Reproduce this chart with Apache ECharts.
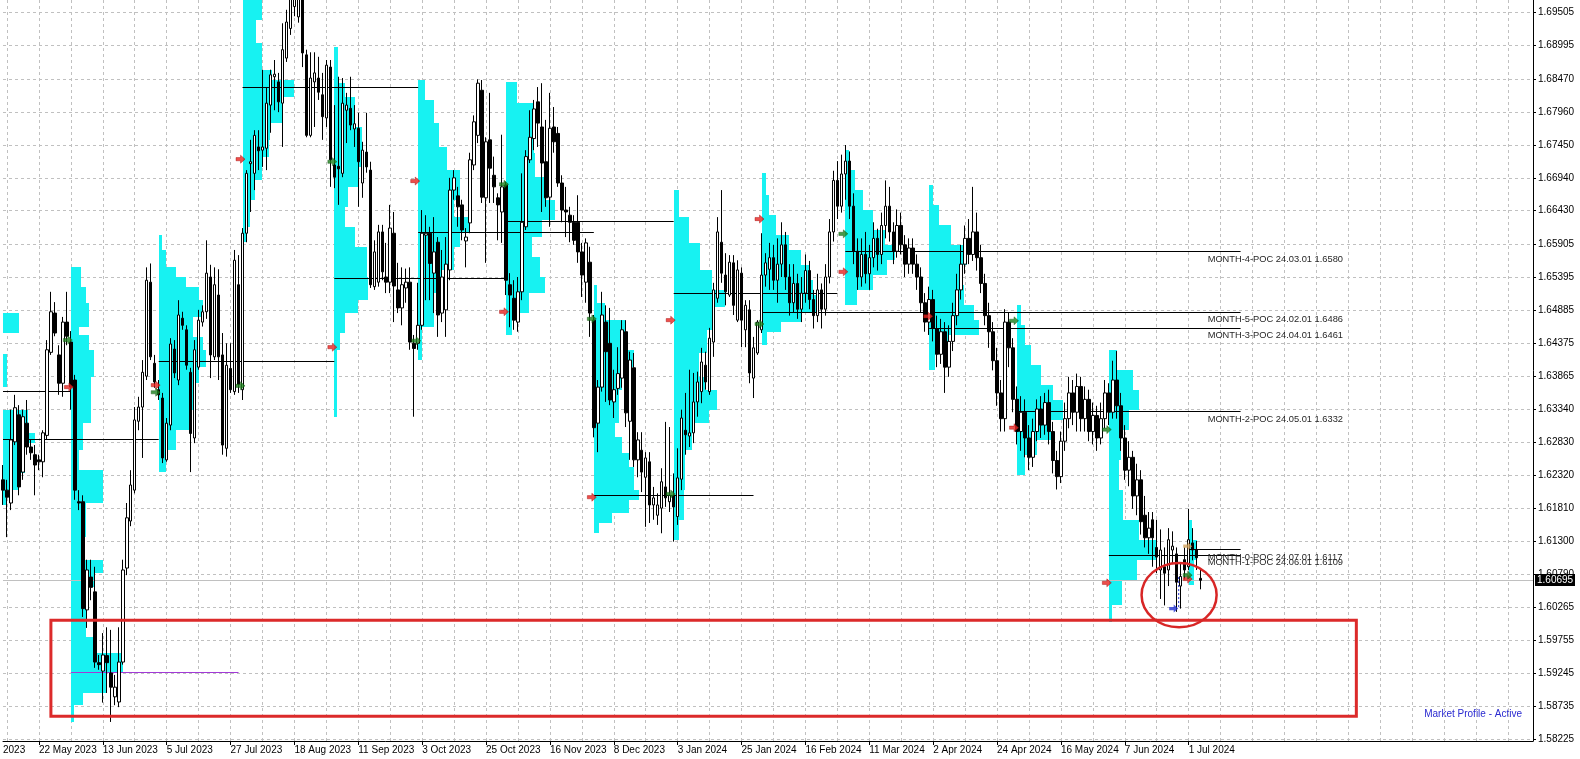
<!DOCTYPE html>
<html>
<head>
<meta charset="utf-8">
<title>Market Profile - daily</title>
<script src="https://cdn.jsdelivr.net/npm/echarts@6/dist/echarts.min.js"></script>
<style>
  html, body { margin: 0; padding: 0; background: #fff; }
  #chart { width: 1580px; height: 759px; }
</style>
</head>
<body>
<div id="chart"></div>
<script>
// daily bars, bar 0 = 28 Apr 2023; first visible bar is 7
const firstBar = 7;

const opens = [
  1.6225,1.6209,1.6189,1.6284,1.6326,1.6237,1.6313,1.6276,1.6264,1.6256,
  1.6253,1.6294,1.6423,1.6484,1.6419,1.6375,1.6470,1.6439,1.6380,1.6191,
  1.6191,1.6023,1.6074,1.6051,1.5941,1.5928,1.5952,1.5925,1.5888,1.5880,
  1.5942,1.6088,1.6161,1.6209,1.6316,1.6338,1.6386,1.6532,1.6406,1.6365,
  1.6352,1.6256,1.6310,1.6428,1.6380,1.6476,1.6458,1.6392,1.6290,1.6400,
  1.6470,1.6486,1.6540,1.6416,1.6512,1.6419,1.6274,1.6398,1.6362,1.6528,
  1.6365,1.6608,1.6716,1.6701,1.6742,1.6737,1.6740,1.6807,1.6851,1.6843,
  1.6810,1.6880,1.6926,1.6960,1.6944,1.6975,1.6885,1.6760,1.6843,1.6849,
  1.6823,1.6787,1.6866,1.6714,1.6712,1.6701,1.6799,1.6802,1.6770,1.6771,
  1.6686,1.6734,1.6706,1.6525,1.6532,1.6610,1.6540,1.6532,1.6608,1.6520,
  1.6492,1.6523,1.6532,1.6437,1.6437,1.6465,1.6605,1.6608,1.6546,1.6594,
  1.6484,1.6489,1.6551,1.6675,1.6666,1.6652,1.6596,1.6624,1.6714,1.6760,
  1.6830,1.6663,1.6753,1.6698,1.6663,1.6641,1.6683,1.6528,1.6507,1.6470,
  1.6517,1.6618,1.6722,1.6755,1.6812,1.6773,1.6719,1.6664,1.6773,1.6763,
  1.6686,1.6644,1.6636,1.6625,1.6625,1.6579,1.6532,1.6563,1.6473,1.6313,
  1.6369,1.6470,1.6437,1.6346,1.6367,1.6383,1.6455,1.6316,1.6399,1.6256,
  1.6271,1.6229,1.6253,1.6186,1.6170,1.6181,1.6214,1.6191,1.6201,1.6168,
  1.6226,1.6302,1.6293,1.6298,1.6346,1.6362,1.6403,1.6362,1.6439,1.6507,
  1.6594,1.6543,1.6512,1.6562,1.6473,1.6546,1.6458,1.6489,1.6383,1.6422,
  1.6458,1.6543,1.6552,1.6570,1.6535,1.6560,1.6590,1.6540,1.6500,1.6530,
  1.6490,1.6515,1.6550,1.6505,1.6480,1.6520,1.6490,1.6540,1.6610,1.6690,
  1.6650,1.6700,1.6720,1.6650,1.6580,1.6540,1.6575,1.6545,1.6570,1.6600,
  1.6575,1.6620,1.6650,1.6610,1.6580,1.6620,1.6590,1.6560,1.6585,1.6560,
  1.6540,1.6500,1.6470,1.6505,1.6460,1.6420,1.6455,1.6400,1.6440,1.6480,
  1.6520,1.6560,1.6600,1.6575,1.6610,1.6570,1.6530,1.6480,1.6455,1.6410,
  1.6360,1.6320,1.6470,1.6430,1.6350,1.6300,1.6330,1.6290,1.6260,1.6300,
  1.6335,1.6310,1.6345,1.6300,1.6255,1.6230,1.6285,1.6320,1.6360,1.6330,
  1.6370,1.6320,1.6350,1.6300,1.6325,1.6290,1.6320,1.6360,1.6330,1.6380,
  1.6340,1.6290,1.6240,1.6260,1.6200,1.6225,1.6170,1.6135,1.6163,1.6120,
  1.6085,1.6090,1.6085,1.6116,1.6110,1.6060,1.6101,1.6090,1.6127,1.6116,1.6072
];
const closes = [
  1.6209,1.6198,1.6287,1.6337,1.6214,1.6323,1.6276,1.6267,1.6248,1.6253,
  1.6298,1.6427,1.6486,1.6453,1.6375,1.6470,1.6448,1.6369,1.6209,1.6189,
  1.6025,1.6085,1.6058,1.5942,1.5938,1.5953,1.5941,1.5903,1.5903,1.5942,
  1.6085,1.6166,1.6217,1.6318,1.6338,1.6392,1.6535,1.6416,1.6377,1.6357,
  1.6259,1.6313,1.6436,1.6391,1.6481,1.6465,1.6403,1.6297,1.6427,1.6473,
  1.6486,1.6546,1.6419,1.6528,1.6416,1.6279,1.6403,1.6365,1.6566,1.6373,
  1.6608,1.6701,1.6719,1.6760,1.6736,1.6742,1.6810,1.6854,1.6855,1.6812,
  1.6893,1.6936,1.6975,1.6985,1.6990,1.6888,1.6760,1.6849,1.6857,1.6827,
  1.6789,1.6869,1.6722,1.6695,1.6708,1.6810,1.6807,1.6776,1.6778,1.6719,
  1.6737,1.6711,1.6528,1.6579,1.6610,1.6548,1.6532,1.6616,1.6526,1.6492,
  1.6528,1.6532,1.6439,1.6429,1.6465,1.6608,1.6608,1.6561,1.6579,1.6481,
  1.6540,1.6560,1.6675,1.6694,1.6649,1.6613,1.6602,1.6722,1.6781,1.6841,
  1.6664,1.6750,1.6709,1.6680,1.6652,1.6680,1.6535,1.6512,1.6473,1.6517,
  1.6625,1.6727,1.6757,1.6801,1.6779,1.6717,1.6663,1.6771,1.6750,1.6686,
  1.6644,1.6641,1.6625,1.6597,1.6579,1.6543,1.6593,1.6484,1.6306,1.6369,
  1.6481,1.6424,1.6349,1.6365,1.6390,1.6458,1.6329,1.6411,1.6256,1.6287,
  1.6237,1.6259,1.6186,1.6197,1.6186,1.6222,1.6197,1.6201,1.6183,1.6228,
  1.6321,1.6295,1.6298,1.6346,1.6377,1.6408,1.6377,1.6445,1.6520,1.6610,
  1.6546,1.6517,1.6563,1.6496,1.6551,1.6473,1.6496,1.6391,1.6430,1.6470,
  1.6543,1.6562,1.6570,1.6535,1.6560,1.6590,1.6540,1.6500,1.6530,1.6490,
  1.6515,1.6550,1.6505,1.6480,1.6520,1.6490,1.6540,1.6610,1.6690,1.6650,
  1.6700,1.6720,1.6650,1.6580,1.6540,1.6575,1.6545,1.6570,1.6600,1.6575,
  1.6620,1.6650,1.6610,1.6580,1.6620,1.6590,1.6560,1.6585,1.6560,1.6540,
  1.6500,1.6470,1.6505,1.6460,1.6420,1.6455,1.6400,1.6440,1.6480,1.6520,
  1.6560,1.6600,1.6575,1.6610,1.6570,1.6530,1.6480,1.6455,1.6410,1.6360,
  1.6320,1.6470,1.6430,1.6350,1.6300,1.6330,1.6290,1.6260,1.6300,1.6335,
  1.6310,1.6345,1.6300,1.6255,1.6230,1.6285,1.6320,1.6360,1.6330,1.6370,
  1.6320,1.6350,1.6300,1.6325,1.6290,1.6320,1.6360,1.6330,1.6380,1.6340,
  1.6290,1.6240,1.6260,1.6200,1.6225,1.6160,1.6135,1.6150,1.6135,1.6105,
  1.6116,1.6080,1.6132,1.6122,1.6066,1.6075,1.6085,1.6132,1.6116,1.6104,1.6069
];
const highs = [
  1.6248,1.6225,1.6334,1.6357,1.6341,1.6334,1.6349,1.6287,1.6279,1.6264,
  1.6302,1.6442,1.6517,1.6501,1.6434,1.6478,1.6517,1.6456,1.6388,1.6209,
  1.6201,1.6101,1.6101,1.6090,1.5953,1.5987,1.5996,1.5992,1.5922,1.5996,
  1.6101,1.6189,1.6240,1.6338,1.6354,1.6411,1.6555,1.6561,1.6419,1.6380,
  1.6360,1.6321,1.6445,1.6442,1.6504,1.6486,1.6465,1.6399,1.6442,1.6489,
  1.6496,1.6597,1.6559,1.6555,1.6552,1.6453,1.6437,1.6437,1.6582,1.6574,
  1.6616,1.6706,1.6753,1.6768,1.6768,1.6862,1.6835,1.6862,1.6877,1.6857,
  1.6934,1.6955,1.7000,1.7010,1.7015,1.6995,1.6893,1.6889,1.6889,1.6882,
  1.6857,1.6877,1.6877,1.6807,1.6851,1.6849,1.6826,1.6851,1.6807,1.6795,
  1.6750,1.6795,1.6719,1.6597,1.6621,1.6621,1.6593,1.6652,1.6641,1.6562,
  1.6555,1.6553,1.6555,1.6450,1.6531,1.6644,1.6636,1.6618,1.6633,1.6602,
  1.6582,1.6602,1.6694,1.6706,1.6680,1.6660,1.6616,1.6733,1.6791,1.6847,
  1.6846,1.6757,1.6826,1.6727,1.6670,1.6761,1.6688,1.6546,1.6535,1.6540,
  1.6701,1.6737,1.6799,1.6815,1.6835,1.6841,1.6784,1.6826,1.6804,1.6773,
  1.6698,1.6680,1.6649,1.6636,1.6667,1.6593,1.6600,1.6587,1.6481,1.6380,
  1.6517,1.6496,1.6492,1.6396,1.6431,1.6473,1.6473,1.6424,1.6422,1.6299,
  1.6299,1.6268,1.6268,1.6214,1.6204,1.6243,1.6315,1.6307,1.6235,1.6274,
  1.6334,1.6360,1.6396,1.6391,1.6393,1.6430,1.6424,1.6461,1.6531,1.6633,
  1.6675,1.6577,1.6574,1.6574,1.6566,1.6555,1.6504,1.6504,1.6447,1.6473,
  1.6608,1.6577,1.6593,1.6590,1.6600,1.6625,1.6610,1.6560,1.6560,1.6545,
  1.6540,1.6575,1.6565,1.6520,1.6545,1.6530,1.6560,1.6630,1.6705,1.6720,
  1.6730,1.6745,1.6735,1.6670,1.6600,1.6600,1.6610,1.6590,1.6625,1.6615,
  1.6640,1.6690,1.6680,1.6625,1.6645,1.6640,1.6605,1.6600,1.6600,1.6575,
  1.6555,1.6515,1.6525,1.6520,1.6480,1.6475,1.6470,1.6465,1.6500,1.6545,
  1.6590,1.6620,1.6630,1.6680,1.6640,1.6590,1.6545,1.6500,1.6470,1.6430,
  1.6380,1.6490,1.6485,1.6445,1.6370,1.6355,1.6350,1.6310,1.6320,1.6350,
  1.6355,1.6360,1.6365,1.6315,1.6270,1.6300,1.6345,1.6385,1.6380,1.6390,
  1.6385,1.6370,1.6365,1.6345,1.6340,1.6345,1.6380,1.6375,1.6410,1.6425,
  1.6360,1.6310,1.6285,1.6270,1.6250,1.6240,1.6200,1.6175,1.6175,1.6163,
  1.6148,1.6120,1.6150,1.6145,1.6120,1.6095,1.6120,1.6180,1.6150,1.6130,1.6085
];
const lows = [
  1.6186,1.6136,1.6178,1.6279,1.6201,1.6225,1.6264,1.6256,1.6201,1.6240,
  1.6229,1.6287,1.6419,1.6448,1.6357,1.6354,1.6434,1.6334,1.6194,1.6178,
  1.6012,1.5995,1.6038,1.5933,1.5930,1.5879,1.5894,1.5849,1.5875,1.5872,
  1.5938,1.6077,1.6153,1.6204,1.6302,1.6259,1.6380,1.6411,1.6368,1.6349,
  1.6251,1.6253,1.6302,1.6383,1.6372,1.6458,1.6396,1.6237,1.6282,1.6396,
  1.6463,1.6475,1.6383,1.6411,1.6380,1.6264,1.6261,1.6360,1.6357,1.6360,
  1.6349,1.6594,1.6641,1.6675,1.6706,1.6711,1.6706,1.6764,1.6799,1.6796,
  1.6742,1.6874,1.6916,1.6945,1.6935,1.6866,1.6757,1.6757,1.6773,1.6815,
  1.6753,1.6773,1.6680,1.6678,1.6652,1.6695,1.6748,1.6768,1.6742,1.6649,
  1.6663,1.6702,1.6523,1.6520,1.6525,1.6535,1.6515,1.6515,1.6470,1.6484,
  1.6465,1.6500,1.6427,1.6323,1.6427,1.6458,1.6504,1.6504,1.6484,1.6447,
  1.6470,1.6447,1.6535,1.6660,1.6618,1.6597,1.6555,1.6608,1.6706,1.6748,
  1.6655,1.6562,1.6655,1.6655,1.6597,1.6593,1.6512,1.6462,1.6458,1.6455,
  1.6504,1.6613,1.6717,1.6737,1.6742,1.6641,1.6649,1.6618,1.6733,1.6680,
  1.6625,1.6602,1.6594,1.6590,1.6562,1.6509,1.6500,1.6447,1.6291,1.6268,
  1.6362,1.6346,1.6341,1.6321,1.6357,1.6368,1.6307,1.6256,1.6245,1.6229,
  1.6206,1.6152,1.6158,1.6163,1.6155,1.6142,1.6183,1.6175,1.6129,1.6155,
  1.6209,1.6264,1.6276,1.6282,1.6323,1.6344,1.6365,1.6357,1.6416,1.6500,
  1.6531,1.6496,1.6509,1.6481,1.6470,1.6431,1.6431,1.6375,1.6352,1.6419,
  1.6453,1.6525,1.6520,1.6520,1.6500,1.6540,1.6520,1.6480,1.6485,1.6475,
  1.6470,1.6500,1.6490,1.6460,1.6470,1.6460,1.6480,1.6530,1.6595,1.6630,
  1.6640,1.6660,1.6630,1.6560,1.6520,1.6525,1.6530,1.6520,1.6555,1.6550,
  1.6560,1.6600,1.6595,1.6560,1.6570,1.6575,1.6540,1.6545,1.6545,1.6520,
  1.6485,1.6455,1.6450,1.6440,1.6400,1.6405,1.6360,1.6385,1.6425,1.6465,
  1.6505,1.6545,1.6560,1.6565,1.6550,1.6515,1.6465,1.6430,1.6395,1.6340,
  1.6300,1.6300,1.6400,1.6330,1.6280,1.6270,1.6260,1.6240,1.6245,1.6285,
  1.6290,1.6295,1.6280,1.6235,1.6210,1.6220,1.6270,1.6305,1.6310,1.6300,
  1.6300,1.6300,1.6285,1.6280,1.6270,1.6280,1.6305,1.6310,1.6320,1.6320,
  1.6270,1.6225,1.6215,1.6180,1.6170,1.6140,1.6120,1.6110,1.6090,1.6080,
  1.6040,1.6030,1.6060,1.6094,1.6020,1.6025,1.6070,1.6085,1.6100,1.6085,1.6055
];
const lastPrice = 1.60695;

// axis labels
const priceLabels = ['1.58225','1.58735','1.59245','1.59755','1.60265','1.60790','1.61300','1.61810',
  '1.62320','1.62830','1.63340','1.63865','1.64375','1.64885','1.65395','1.65905','1.66430',
  '1.66940','1.67450','1.67960','1.68470','1.68995','1.69505'];
const dateBars = [16, 32, 48, 64, 80, 96, 112, 128, 144, 160, 176, 192, 208, 224, 240, 256, 272, 288, 304];
const dateLabels = ['22 May 2023','13 Jun 2023','5 Jul 2023','27 Jul 2023','18 Aug 2023','11 Sep 2023',
  '3 Oct 2023','25 Oct 2023','16 Nov 2023','8 Dec 2023','3 Jan 2024','25 Jan 2024','16 Feb 2024',
  '11 Mar 2024','2 Apr 2024','24 Apr 2024','16 May 2024','7 Jun 2024','1 Jul 2024'];

// monthly market profiles: first bar of month, rows [priceHigh, priceLow, TPO width in bars]
const profileStarts = [-19, 1, 24, 46, 67, 90, 111, 133, 155, 175, 197, 218, 239, 261, 284, 304];
const profileRows = [
  [[1.6484,1.6453,30],[1.6453,1.6432,26],[1.6432,1.6420,25],[1.6420,1.6369,27],[1.6369,1.6355,25]],
  [[1.6333,1.6298,12.25],[1.6298,1.6282,14],[1.6282,1.6236,11.5],[1.6236,1.6209,9.75],[1.6209,1.6186,7]],
  [[1.6556,1.6525,2.5],[1.6525,1.6500,3.75],[1.6500,1.6462,4.5],[1.6462,1.6450,2],[1.6450,1.6427,4.5],
   [1.6427,1.6385,5.75],[1.6385,1.6313,5],[1.6313,1.6271,3],[1.6271,1.6240,2],[1.6240,1.6189,8],
   [1.6189,1.6136,3.75],[1.6136,1.6100,3],[1.6100,1.6081,8],[1.6081,1.6058,6],[1.6058,1.5981,3.75],
   [1.5981,1.5956,5.5],[1.5956,1.5925,13],[1.5925,1.5894,8.75],[1.5894,1.5875,3],[1.5875,1.5849,0.75]],
  [[1.6605,1.6582,0.75],[1.6582,1.6556,1.75],[1.6556,1.6540,4.25],[1.6540,1.6525,6.75],[1.6525,1.6504,10],
   [1.6504,1.6478,11],[1.6478,1.6447,8.5],[1.6447,1.6427,11],[1.6427,1.6400,11.75],[1.6400,1.6375,10],
   [1.6375,1.6333,8.5],[1.6333,1.6302,7.5],[1.6302,1.6271,4.25],[1.6271,1.6237,1.75]],
  [[1.6990,1.6939,5],[1.6939,1.6903,3.25],[1.6903,1.6862,5],[1.6862,1.6846,7.5],[1.6846,1.6820,13],
   [1.6820,1.6779,10],[1.6779,1.6753,7],[1.6753,1.6726,6.75],[1.6726,1.6691,5],[1.6691,1.6660,3],
   [1.6660,1.6618,1.75],[1.6618,1.6594,0.75]],
  [[1.6897,1.6841,1],[1.6841,1.6820,2.75],[1.6820,1.6773,5.25],[1.6773,1.6711,7],[1.6711,1.6680,6],
   [1.6680,1.6649,3.5],[1.6649,1.6618,2.75],[1.6618,1.6587,5.25],[1.6587,1.6540,8.25],[1.6540,1.6504,8.5],
   [1.6504,1.6484,6],[1.6484,1.6453,2.75],[1.6453,1.6427,1.5],[1.6427,1.6323,0.75]],
  [[1.6846,1.6815,1.75],[1.6815,1.6779,4],[1.6779,1.6742,5.25],[1.6742,1.6706,7.25],[1.6706,1.6660,10.5],
   [1.6660,1.6633,9],[1.6633,1.6608,12.75],[1.6608,1.6587,10.5],[1.6587,1.6551,9],[1.6551,1.6515,6],
   [1.6515,1.6462,4],[1.6462,1.6411,1]],
  [[1.6843,1.6810,2.75],[1.6810,1.6773,7],[1.6773,1.6733,7],[1.6733,1.6695,7.25],[1.6695,1.6660,9.75],
   [1.6660,1.6629,12.25],[1.6629,1.6602,9],[1.6602,1.6571,6.5],[1.6571,1.6540,8.5],[1.6540,1.6515,9.75],
   [1.6515,1.6484,5.75],[1.6484,1.6450,1.5]],
  [[1.6528,1.6500,0.75],[1.6500,1.6473,2.75],[1.6473,1.6427,7.75],[1.6427,1.6400,10],[1.6400,1.6365,7],
   [1.6365,1.6313,6.25],[1.6313,1.6292,5.25],[1.6292,1.6267,7],[1.6267,1.6245,8.75],[1.6245,1.6209,10],
   [1.6209,1.6194,11.25],[1.6194,1.6174,8.75],[1.6174,1.6158,4.5],[1.6158,1.6143,1.25]],
  [[1.6675,1.6633,1.25],[1.6633,1.6593,3.75],[1.6593,1.6551,6.5],[1.6551,1.6520,9.5],[1.6520,1.6493,12.75],
   [1.6493,1.6458,9.5],[1.6458,1.6422,8.25],[1.6422,1.6385,6.25],[1.6385,1.6365,7.75],[1.6365,1.6334,10.75],
   [1.6334,1.6313,8.75],[1.6313,1.6271,4.5],[1.6271,1.6209,2.75],[1.6209,1.6163,2.5],[1.6163,1.6132,1.25]],
  [[1.6702,1.6667,1],[1.6667,1.6636,2],[1.6636,1.6605,3.75],[1.6605,1.6582,7],[1.6582,1.6559,10],
   [1.6559,1.6535,12],[1.6535,1.6512,13],[1.6512,1.6486,14],[1.6486,1.6470,10],[1.6470,1.6455,5],
   [1.6455,1.6434,1.25]],
  [[1.6737,1.6706,1],[1.6706,1.6675,2.5],[1.6675,1.6644,4.5],[1.6644,1.6613,7],[1.6613,1.6590,10],
   [1.6590,1.6566,12.5],[1.6566,1.6543,10.5],[1.6543,1.6520,7],[1.6520,1.6496,3]],
  [[1.6683,1.6652,1],[1.6652,1.6621,2.5],[1.6621,1.6590,5.5],[1.6590,1.6559,9.5],[1.6559,1.6528,7.5],
   [1.6528,1.6497,8.75],[1.6497,1.6473,11.25],[1.6473,1.6450,12.5],[1.6450,1.6427,5],[1.6427,1.6396,1.5]],
  [[1.6497,1.6465,1],[1.6465,1.6434,2],[1.6434,1.6403,3.5],[1.6403,1.6372,6],[1.6372,1.6349,9],
   [1.6349,1.6318,11.5],[1.6318,1.6287,8.5],[1.6287,1.6264,5],[1.6264,1.6233,2]],
  [[1.6427,1.6396,2],[1.6396,1.6365,6],[1.6365,1.6334,7.5],[1.6334,1.6302,5],[1.6302,1.6256,3],
   [1.6256,1.6209,2.5],[1.6209,1.6163,3.5],[1.6163,1.6132,7.5],[1.6132,1.6101,11.75],[1.6101,1.6070,7],
   [1.6070,1.6031,3.25],[1.6031,1.6004,0.75]],
  [[1.6163,1.6132,0.75],[1.6132,1.6101,2],[1.6101,1.6062,1.25]]
];

// point of control lines per month
const pocEnd = [24, 46, 66, 90, 111, 133, 155, 175, 195, 216, 317, 317, 317, 317, 317, 317];
const pocPrice = [1.6363, 1.6288, 1.5926, 1.6410, 1.6835, 1.6539, 1.6610, 1.6627, 1.6202, 1.6515,
  1.6486, 1.6580, 1.6461, 1.6332, 1.6109, 1.6117];
const pocTags = {10: 'MONTH-5-POC 24.02.01', 11: 'MONTH-4-POC 24.03.01', 12: 'MONTH-3-POC 24.04.01',
  13: 'MONTH-2-POC 24.05.01', 14: 'MONTH-1-POC 24.06.01', 15: 'MONTH-0-POC 24.07.01'};
const pocLabelBar = 308.75;
const purplePoc = 2;

// month open / poc markers
const redMarks = [[23.5,1.6369],[45.25,1.6372],[66.5,1.6723],[89.5,1.6431],[110.25,1.6689],[132.5,1.6486],
  [154.5,1.6198],[174.25,1.6473],[196.5,1.6630],[217.5,1.6548],[238.75,1.6479],[260.25,1.6306],
  [283.5,1.6065],[303.75,1.6071]];
const greenMarks = [[23.25,1.6442],[45.25,1.6361],[66.5,1.6371],[89.5,1.6719],[110.5,1.6441],[132.5,1.6684],
  [154.5,1.6475],[174.25,1.6203],[196.5,1.6467],[217.5,1.6607],[260.25,1.6472],[283.5,1.6303],
  [303.75,1.6077]];
const tanMarks = [[303.75, 1.6122]];
const blueMarks = [[300.25, 1.6025]];
const blueTrail = [[301.5, 1.6074], [301.5, 1.6026]];

// hand-drawn annotations
const boxBars = [19, 346];
const boxPrices = [1.6007, 1.5858];
const ringCenter = [301.6, 1.6046];
const ringRadius = [9.4, 0.0050];

const FONT = 'Liberation Sans, Arial, sans-serif';
const xMin = 7, xMax = 390.25;
const yMin = 1.58194, yMax = 1.69702;

const gridBars = [];
for (let b = 8; b < xMax; b += 8) gridBars.push(b);

const candleData = opens.map((o, k) => [firstBar + k, o, closes[k], lows[k], highs[k]]);
const profileData = [];
profileStarts.forEach((s, k) => profileRows[k].forEach(r => profileData.push([s, r[0], r[1], r[2]])));
const pocData = profileStarts.map((s, k) => [s, pocEnd[k], pocPrice[k], k]);
const pocLabelData = Object.keys(pocTags).map(k => [pocLabelBar, pocPrice[k], +k]);

const arrowPath = 'path://M0,3 L5,3 L5,0 L10,5 L5,10 L5,7 L0,7 Z';
const dateMap = {};
dateBars.forEach((b, k) => { dateMap[b] = dateLabels[k]; });

const chart = echarts.init(document.getElementById('chart'));
chart.setOption({
  animation: false,
  backgroundColor: '#fff',
  grid: { left: 0, right: 47, top: 0, bottom: 18 },
  xAxis: [{
    type: 'value', min: xMin, max: xMax,
    axisLine: { lineStyle: { color: '#000', width: 1 } },
    axisTick: { customValues: dateBars, length: 4, lineStyle: { color: '#000' } },
    axisLabel: {
      customValues: [xMin].concat(dateBars),
      formatter: v => (v === xMin ? '2023' : dateMap[v]),
      align: 'left', margin: 4, color: '#000', fontSize: 10, fontFamily: FONT
    },
    splitLine: { show: false }
  }, {
    type: 'value', min: xMin, max: xMax, position: 'bottom',
    axisLine: { show: false }, axisLabel: { show: false },
    axisTick: { show: false, customValues: gridBars },
    splitLine: { show: true, lineStyle: { color: '#c0c0c0', type: [3, 3], width: 1 } }
  }],
  yAxis: {
    type: 'value', position: 'right', min: yMin, max: yMax,
    axisLine: { show: true, lineStyle: { color: '#000', width: 1 } },
    axisTick: { show: true, customValues: priceLabels.map(Number), length: 3, lineStyle: { color: '#000' } },
    axisLabel: {
      customValues: priceLabels.map(Number), formatter: v => v.toFixed(5),
      color: '#000', fontSize: 10, fontFamily: FONT, margin: 5
    },
    splitLine: { show: true, lineStyle: { color: '#c0c0c0', type: [3, 3], width: 1 } }
  },
  series: [
    {
      // market profile histograms
      type: 'custom', z: 1, clip: true,
      encode: { x: 0, y: [1, 2] },
      data: profileData,
      renderItem: (params, api) => {
        const a = api.coord([api.value(0), api.value(1)]);
        const b = api.coord([api.value(0) + api.value(3), api.value(2)]);
        const x = Math.round(a[0]), y = Math.round(a[1]);
        return { type: 'rect', shape: { x: x, y: y, width: Math.round(b[0]) - x, height: Math.round(b[1]) - y },
          style: { fill: '#17f2f2' } };
      }
    },
    {
      // POC lines
      type: 'custom', z: 2, clip: true,
      encode: { x: [0, 1], y: 2 },
      data: pocData,
      renderItem: (params, api) => {
        const a = api.coord([api.value(0), api.value(2)]);
        const b = api.coord([api.value(1), api.value(2)]);
        const y = Math.round(a[1]) + 0.5;
        return { type: 'line', shape: { x1: a[0], y1: y, x2: b[0], y2: y },
          style: { stroke: api.value(3) === purplePoc ? '#a23ad6' : '#000', lineWidth: 1 } };
      }
    },
    {
      // POC captions
      type: 'custom', z: 2, clip: false,
      encode: { x: 0, y: 1 },
      data: pocLabelData,
      renderItem: (params, api) => {
        const p = api.coord([api.value(0), api.value(1)]);
        const k = api.value(2);
        return { type: 'text', x: p[0], y: p[1] + 8,
          style: { text: pocTags[k] + ' ' + pocPrice[k].toFixed(4), fill: '#262626',
            font: '9.3px ' + FONT, verticalAlign: 'middle', align: 'left' } };
      }
    },
    {
      // current bid line + price box on the scale
      type: 'custom', z: 2, clip: false,
      encode: { x: 0, y: 1 },
      data: [[xMin, lastPrice]],
      renderItem: (params, api) => {
        const p = api.coord([api.value(0), api.value(1)]);
        const cs = params.coordSys;
        const y = Math.round(p[1]) + 0.5;
        const right = cs.x + cs.width;
        return { type: 'group', children: [
          { type: 'line', shape: { x1: cs.x, y1: y, x2: right, y2: y },
            style: { stroke: '#c0c0c0', lineWidth: 1 } },
          { type: 'rect', shape: { x: right + 2, y: y - 6.5, width: 40, height: 12 }, style: { fill: '#000' }, z2: 10 },
          { type: 'text', x: right + 4, y: y, z2: 11,
            style: { text: lastPrice.toFixed(5), fill: '#fff', font: '10px ' + FONT, verticalAlign: 'middle' } }
        ] };
      }
    },
    {
      type: 'candlestick', z: 3,
      dimensions: ['bar', 'open', 'close', 'low', 'high'],
      encode: { x: 0, y: [1, 2, 3, 4] },
      data: candleData,
      barWidth: 3,
      itemStyle: { color: '#fff', color0: '#000', borderColor: '#000', borderColor0: '#000', borderWidth: 1 }
    },
    { type: 'scatter', z: 4, symbol: arrowPath, symbolSize: [9, 8], data: redMarks,
      itemStyle: { color: '#e8231f', borderColor: '#9a0000', borderWidth: 0.5 } },
    { type: 'scatter', z: 4, symbol: arrowPath, symbolSize: [9, 8], data: greenMarks,
      itemStyle: { color: '#1b7f1b', borderColor: '#0b4d0b', borderWidth: 0.5 } },
    { type: 'scatter', z: 4, symbol: arrowPath, symbolSize: [9, 8], data: tanMarks,
      itemStyle: { color: '#d1a05a' } },
    { type: 'scatter', z: 4, symbol: arrowPath, symbolSize: [9, 8], data: blueMarks,
      itemStyle: { color: '#1f2fd0' } },
    { type: 'line', z: 4, data: blueTrail, symbol: 'none',
      lineStyle: { color: '#1f2fd0', type: [2, 2], width: 1 } },
    {
      // red box + ring drawn on the chart
      type: 'custom', z: 5, clip: true,
      encode: { x: 0, y: 1 },
      data: [[boxBars[0], boxPrices[0]]],
      renderItem: (params, api) => {
        const a = api.coord([boxBars[0], boxPrices[0]]);
        const b = api.coord([boxBars[1], boxPrices[1]]);
        const c = api.coord(ringCenter);
        const r = api.coord([ringCenter[0] + ringRadius[0], ringCenter[1] + ringRadius[1]]);
        return { type: 'group', children: [
          { type: 'rect', shape: { x: a[0], y: a[1], width: b[0] - a[0], height: b[1] - a[1] },
            style: { fill: null, stroke: '#dc2a2a', lineWidth: 3 } },
          { type: 'ellipse', shape: { cx: c[0], cy: c[1], rx: r[0] - c[0], ry: c[1] - r[1] },
            style: { fill: null, stroke: '#d82626', lineWidth: 2.5 } }
        ] };
      }
    }
  ],
  graphic: [{
    type: 'text', right: 58, top: 709,
    style: { text: 'Market Profile - Active', fill: '#2a2ad0', font: '10px ' + FONT }
  }]
});
</script>
</body>
</html>
